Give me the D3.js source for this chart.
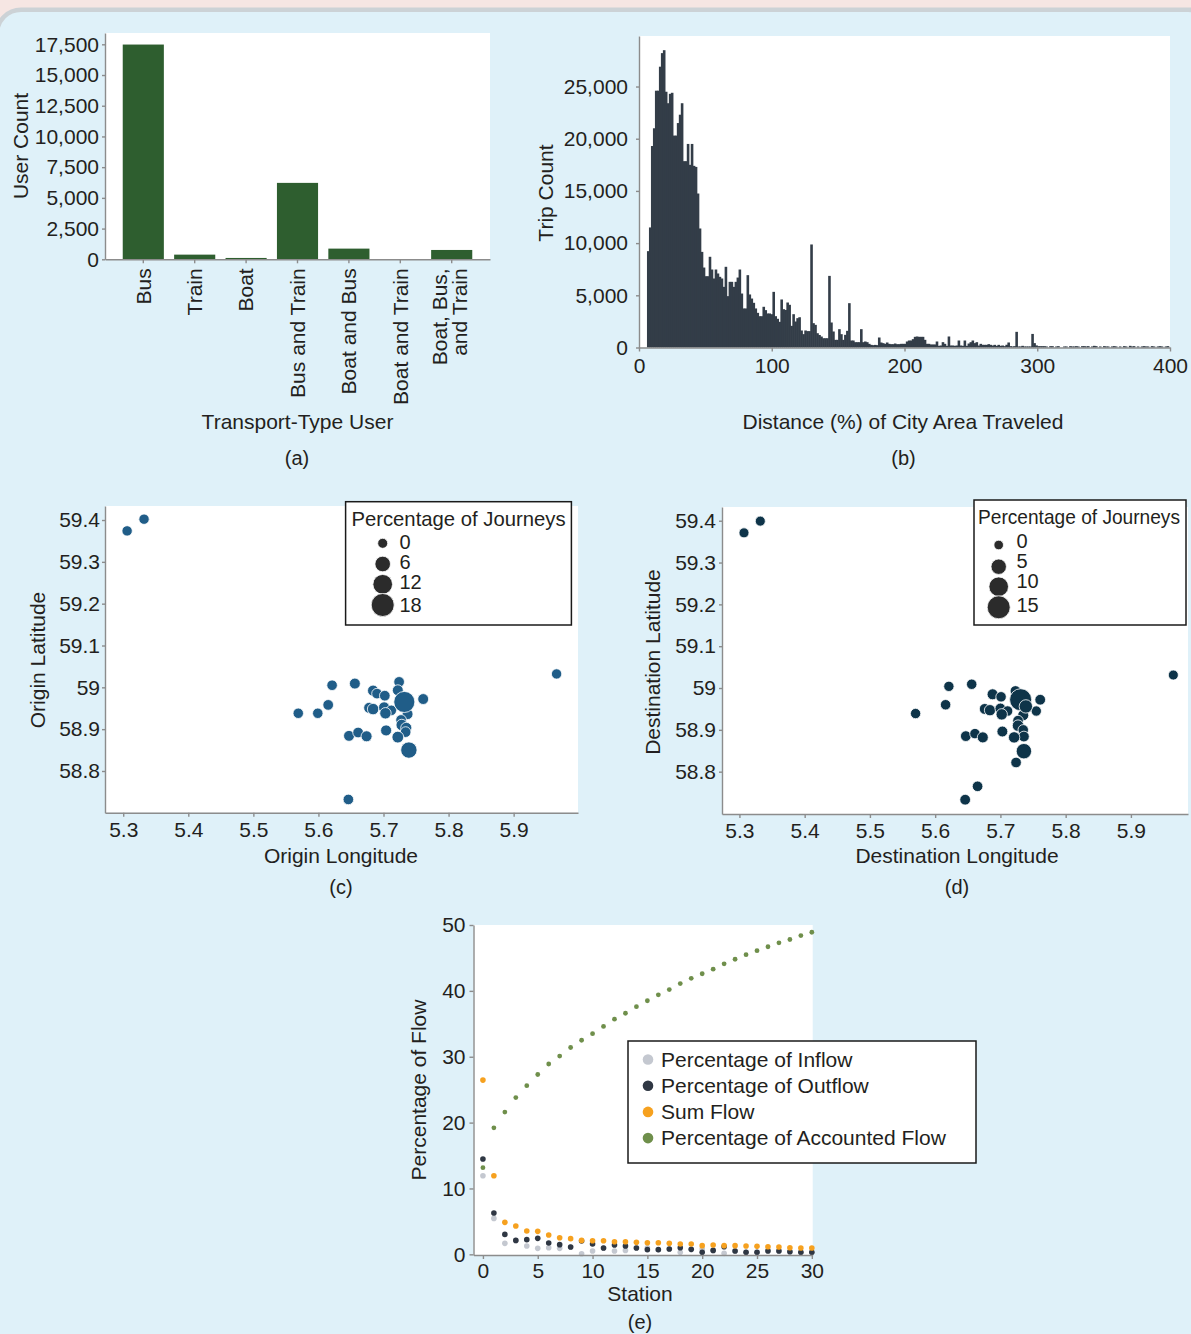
<!DOCTYPE html>
<html>
<head>
<meta charset="utf-8">
<script src="https://cdn.jsdelivr.net/npm/d3@7/dist/d3.min.js"></script>
<style>
  html, body { margin: 0; padding: 0; background: #f6e6e3; }
  svg { display: block; }
</style>
</head>
<body>
<svg id="fig" width="1191" height="1334"></svg>
<script>
// ---------- (a) users by transport type ----------
const transportTypes = ["Bus", "Train", "Boat", "Bus and Train", "Boat and Bus", "Boat and Train", "Boat, Bus, and Train"];
const transportTypeLabels = [["Bus"], ["Train"], ["Boat"], ["Bus and Train"], ["Boat and Bus"], ["Boat and Train"], ["Boat, Bus,", "and Train"]];
const userCounts = [17480, 380, 110, 6220, 870, 8, 760];
const userCountTicks = [0, 2500, 5000, 7500, 10000, 12500, 15000, 17500];

// ---------- (b) histogram of distance travelled ----------
const distanceBinStart = 6.0;
const distanceBinWidth = 1.5;
const tripCounts = [
  9230, 11500, 19300, 21000, 24600, 24600, 26900, 28200, 28480, 24500,
  23400, 24300, 24400, 20300, 20300, 21500, 22300, 23400, 17850, 17850,
  19500, 17500, 19500, 17400, 17300, 14750, 11400, 9160, 7660, 6830,
  6830, 8690, 7470, 6610, 7470, 7090, 6770, 6610, 5810, 7730,
  4920, 6290, 6290, 5810, 6290, 6700, 7470, 5170, 3740, 3740,
  6930, 5080, 4690, 4280, 3740, 3320, 3000, 3000, 3900, 3580,
  3260, 3260, 3190, 5330, 3000, 2750, 2460, 4600, 3670, 3600,
  4310, 4090, 2075, 3190, 2490, 2810, 2900, 1630, 1280, 1630,
  1570, 1570, 9870, 2330, 2170, 1370, 1200, 1050, 890, 890,
  890, 6860, 2395, 1533, 734, 734, 1756, 1277, 734, 1213,
  1597, 4247, 670, 670, 511, 511, 511, 1756, 511, 575,
  511, 351, 255, 224, 250, 224, 958, 479, 415, 351,
  479, 351, 320, 320, 380, 320, 320, 351, 351, 351,
  575, 670, 670, 800, 1022, 1054, 1022, 1022, 1022, 734,
  351, 351, 290, 290, 290, 575, 160, 191, 511, 351,
  160, 1054, 190, 190, 160, 190, 670, 190, 160, 670,
  160, 380, 510, 670, 420, 510, 190, 350, 255, 255,
  255, 320, 255, 190, 255, 160, 255, 160, 190, 130,
  260, 480, 130, 100, 130, 1500, 100, 100, 160, 100,
  100, 100, 100, 1300, 420, 200, 130, 130, 130, 130,
  100, 0, 130, 130, 0, 100, 130, 0, 0, 100,
  100, 0, 130, 100, 100, 130, 100, 0, 130, 130,
  100, 130, 0, 100, 160, 130, 0, 100, 0, 130,
  100, 100, 0, 100, 130, 100, 0, 100, 0, 130,
  100, 0, 160, 100, 130, 0, 100, 0, 100, 130,
  100, 100, 0, 130, 100, 0, 100, 130, 100, 0,
  100, 130
];
const distanceTicks = [0, 100, 200, 300, 400];
const tripCountTicks = [0, 5000, 10000, 15000, 20000, 25000];

// ---------- (c) origins ----------
const originLon = [5.306, 5.332, 5.966, 5.621, 5.656, 5.724, 5.684, 5.690, 5.702, 5.722, 5.761, 5.615, 5.569, 5.599, 5.678, 5.684,
                   5.701, 5.712, 5.703, 5.737, 5.727, 5.728, 5.735, 5.734, 5.704, 5.722, 5.647, 5.661, 5.674, 5.732, 5.739, 5.646];
const originLat = [59.374, 59.402, 59.032, 59.005, 59.009, 59.013, 58.992, 58.985, 58.980, 58.993, 58.972, 58.958, 58.938, 58.938, 58.951, 58.948,
                   58.952, 58.945, 58.938, 58.936, 58.922, 58.910, 58.903, 58.893, 58.897, 58.881, 58.884, 58.892, 58.883, 58.965, 58.850, 58.732];
const originPct = [0.3, 0.3, 0.3, 0.5, 0.8, 0.6, 1.0, 0.5, 0.6, 0.8, 0.8, 0.6, 0.4, 0.4, 0.9, 1.3,
                   1.0, 0.5, 1.3, 0.8, 0.6, 1.3, 1.0, 0.6, 0.9, 1.6, 0.8, 0.6, 0.9, 14.5, 7.0, 0.5];
const originLegendValues = [0, 6, 12, 18];

// ---------- (d) destinations ----------
const destLon = [5.307, 5.332, 5.965, 5.621, 5.656, 5.688, 5.701, 5.723, 5.761, 5.755, 5.616, 5.570, 5.676, 5.684, 5.700, 5.711, 5.702,
                 5.735, 5.727, 5.727, 5.735, 5.736, 5.721, 5.703, 5.647, 5.661, 5.673, 5.724, 5.665, 5.646, 5.731, 5.739, 5.736];
const destLat = [59.371, 59.399, 59.031, 59.004, 59.009, 58.985, 58.979, 58.993, 58.972, 58.945, 58.960, 58.939, 58.950, 58.947, 58.951, 58.945, 58.937,
                 58.935, 58.922, 58.910, 58.900, 58.884, 58.882, 58.896, 58.885, 58.891, 58.882, 58.822, 58.765, 58.733, 58.972, 58.956, 58.849];
const destPct = [0.3, 0.3, 0.3, 0.5, 0.6, 1.0, 0.6, 0.7, 0.8, 0.5, 0.6, 0.5, 0.9, 1.2, 0.9, 0.6, 1.3,
                 1.0, 0.7, 1.4, 0.6, 0.8, 1.3, 0.9, 0.8, 0.6, 1.0, 0.7, 0.7, 0.8, 13.5, 3.0, 5.0];
const destLegendValues = [0, 5, 10, 15];

const lonTicks = [5.3, 5.4, 5.5, 5.6, 5.7, 5.8, 5.9];
const latTicks = [58.8, 58.9, 59.0, 59.1, 59.2, 59.3, 59.4];

// ---------- (e) flow per station ----------
const stations = [0, 1, 2, 3, 4, 5, 6, 7, 8, 9, 10, 11, 12, 13, 14, 15, 16, 17, 18, 19, 20, 21, 22, 23, 24, 25, 26, 27, 28, 29, 30];
const inflowPct = [11.94, 5.46, 1.67, 2.10, 1.26, 0.91, 1.01, 0.91, 1.10, 0.10, 0.50, 0.95, 0.50, 0.60, 1.00, 1.00,
                   0.70, 0.80, 0.30, 0.75, 0.81, 0.60, 0.15, 0.50, 0.30, 0.30, 0.60, 0.50, 0.40, 0.30, 0.30];
const outflowPct = [14.47, 6.27, 3.03, 2.12, 2.23, 2.43, 1.72, 1.47, 1.11, 2.02, 1.57, 0.96, 1.42, 1.26, 0.96, 0.71,
                    0.71, 0.81, 1.01, 0.76, 0.30, 0.60, 1.16, 0.50, 0.30, 0.30, 0.50, 0.50, 0.40, 0.30, 0.30];
const sumFlowPct = [26.45, 11.94, 4.86, 4.30, 3.54, 3.49, 2.93, 2.53, 2.38, 2.12, 2.07, 2.07, 1.92, 1.92, 1.82, 1.77,
                    1.77, 1.67, 1.57, 1.57, 1.32, 1.42, 1.32, 1.32, 1.26, 1.21, 1.16, 1.11, 1.01, 0.96, 0.96];
const accountedFlowPct = [13.15, 19.2, 21.6, 23.8, 25.6, 27.3, 28.9, 30.1, 31.4, 32.5, 33.5, 34.6, 35.7, 36.6, 37.6, 38.5,
                          39.4, 40.2, 41.1, 41.9, 42.6, 43.3, 44.1, 44.8, 45.5, 46.1, 46.7, 47.3, 47.8, 48.4, 48.9];
const flowSeriesNames = ["Percentage of Inflow", "Percentage of Outflow", "Sum Flow", "Percentage of Accounted Flow"];
const stationTicks = [0, 5, 10, 15, 20, 25, 30];
const flowTicks = [0, 10, 20, 30, 40, 50];

// ---------- styling ----------
const FONT = '"Liberation Sans", Arial, Helvetica, sans-serif';
const INK = "#231f20";
const AXIS_GRAY = "#8c8c8c";
const BAR_GREEN = "#2e5e2f";
const HIST_SLATE = "#333d48";
const ORIGIN_BLUE = "#205d88";
const DEST_NAVY = "#0e3449";
const LEGEND_DOT = "#2b2b2b";
const FLOW_COLORS = ["#c4c8d0", "#2f3743", "#f6a11f", "#6f8f4b"];

const svg = d3.select("#fig");

// page background with the rounded light-blue panel
svg.append("rect").attr("width", 1191).attr("height", 1334).attr("fill", "#f6e6e3");
svg.append("rect")
  .attr("x", -3).attr("y", 9.7).attr("width", 1215).attr("height", 1360).attr("rx", 24)
  .attr("fill", "#dff1f9").attr("stroke", "#ccd2d6").attr("stroke-width", 4.5);

function text(x, y, str, opt = {}) {
  const t = svg.append("text")
    .attr("x", x).attr("y", y)
    .attr("font-family", FONT)
    .attr("font-size", opt.size || 21)
    .attr("text-anchor", opt.anchor || "middle")
    .attr("fill", INK)
    .text(str);
  if (opt.rotate) t.attr("transform", `rotate(-90,${x},${y})`);
  if (opt.length) t.attr("textLength", opt.length).attr("lengthAdjust", "spacingAndGlyphs");
  return t;
}

function styleAxis(g) {
  g.attr("font-family", FONT).attr("font-size", 21);
  g.select(".domain").attr("stroke", AXIS_GRAY).attr("stroke-width", 1.4);
  g.selectAll(".tick line").attr("stroke", AXIS_GRAY).attr("stroke-width", 1.4);
  g.selectAll(".tick text").attr("fill", INK);
  return g;
}

function plotArea(box) {
  svg.append("rect")
    .attr("x", box.l).attr("y", box.t)
    .attr("width", box.r - box.l).attr("height", box.b - box.t)
    .attr("fill", "#ffffff");
}

const fmt1 = d => String(+d.toFixed(1));

// =================== (a) ===================
const A = { l: 105, t: 33, r: 490, b: 259.3 };
plotArea(A);
const xA = d3.scaleBand().domain(transportTypes).range([A.l, A.r]).paddingInner(0.2).paddingOuter(0.345);
const yA = d3.scaleLinear().domain([0, 18420]).range([A.b, A.t]);

svg.append("g").selectAll("rect")
  .data(transportTypes)
  .join("rect")
  .attr("x", d => xA(d))
  .attr("width", xA.bandwidth())
  .attr("y", (d, i) => yA(userCounts[i]))
  .attr("height", (d, i) => yA(0) - yA(userCounts[i]))
  .attr("fill", BAR_GREEN);

styleAxis(svg.append("g").attr("transform", `translate(${A.l},0)`)
  .call(d3.axisLeft(yA).tickValues(userCountTicks).tickFormat(d3.format(",")).tickSize(3).tickPadding(3).tickSizeOuter(0)));

const gxA = styleAxis(svg.append("g").attr("transform", `translate(0,${A.b})`)
  .call(d3.axisBottom(xA).tickSize(4).tickSizeOuter(0)));
gxA.selectAll(".tick text").each(function (d) {
  const lines = transportTypeLabels[transportTypes.indexOf(d)];
  const t = d3.select(this)
    .attr("transform", "rotate(-90)")
    .attr("x", -9).attr("y", 0).attr("dy", null)
    .attr("text-anchor", "end")
    .text(null);
  if (lines.length === 1) {
    t.append("tspan").attr("x", -9).attr("dy", "0.35em").text(lines[0]);
  } else {
    t.append("tspan").attr("x", -9).attr("dy", -4.5).text(lines[0]);
    t.append("tspan").attr("x", -9).attr("dy", 20).text(lines[1]);
  }
});

text(27.5, 146, "User Count", { rotate: true });
text(297.5, 428.5, "Transport-Type User");
text(297, 464.5, "(a)", { size: 20 });

// =================== (b) ===================
const B = { l: 639, t: 36, r: 1170, b: 347.5 };
plotArea(B);
const xB = d3.scaleLinear().domain([0, 400]).range([B.l, B.r]);
const yB = d3.scaleLinear().domain([0, 29840]).range([B.b, B.t]);
const binPx = xB(distanceBinWidth) - xB(0);

// one rect per bin; empty bins draw nothing
svg.append("g").selectAll("rect")
  .data(tripCounts.map((c, i) => ({ c, x0: distanceBinStart + i * distanceBinWidth })).filter(d => d.c > 0))
  .join("rect")
  .attr("x", d => xB(d.x0))
  .attr("width", binPx + 0.6)
  .attr("y", d => yB(d.c))
  .attr("height", d => yB(0) - yB(d.c))
  .attr("fill", HIST_SLATE);

styleAxis(svg.append("g").attr("transform", `translate(${B.l},0)`)
  .call(d3.axisLeft(yB).tickValues(tripCountTicks).tickFormat(d3.format(",")).tickSize(3).tickPadding(8).tickSizeOuter(0)));
styleAxis(svg.append("g").attr("transform", `translate(0,${B.b})`)
  .call(d3.axisBottom(xB).tickValues(distanceTicks).tickSize(4).tickPadding(7).tickSizeOuter(0)));

text(553, 193, "Trip Count", { rotate: true });
text(903, 428.5, "Distance (%) of City Area Traveled");
text(903.5, 464.5, "(b)", { size: 20 });

// =================== (c) and (d) ===================
function bubblePanel(P, lonDomain, latDomain, lon, lat, pct, color, areaScale, yPad, legend) {
  plotArea(P);
  const x = d3.scaleLinear().domain(lonDomain).range([P.l, P.r]);
  const y = d3.scaleLinear().domain(latDomain).range([P.b, P.t]);
  const r = v => Math.sqrt(areaScale(v));

  svg.append("g").selectAll("circle")
    .data(d3.range(lon.length))
    .join("circle")
    .attr("cx", i => x(lon[i]))
    .attr("cy", i => y(lat[i]))
    .attr("r", i => r(pct[i]))
    .attr("fill", color)
    .attr("stroke", "#ffffff")
    .attr("stroke-width", 0.8);

  styleAxis(svg.append("g").attr("transform", `translate(${P.l},0)`)
    .call(d3.axisLeft(y).tickValues(latTicks).tickFormat(fmt1).tickSize(3).tickPadding(yPad).tickSizeOuter(0)));
  styleAxis(svg.append("g").attr("transform", `translate(0,${P.b})`)
    .call(d3.axisBottom(x).tickValues(lonTicks).tickFormat(fmt1).tickSize(4).tickPadding(5).tickSizeOuter(0)));

  // size legend
  const L = legend;
  svg.append("rect")
    .attr("x", L.x).attr("y", L.y).attr("width", L.w).attr("height", L.h)
    .attr("fill", "#ffffff").attr("stroke", "#1a1a1a").attr("stroke-width", 1.5);
  text(L.titleX, L.titleY, "Percentage of Journeys", { size: 20.3, length: L.titleLen });
  L.values.forEach((v, k) => {
    svg.append("circle")
      .attr("cx", L.dotX).attr("cy", L.dotY[k]).attr("r", r(v))
      .attr("fill", LEGEND_DOT).attr("stroke", "#ffffff").attr("stroke-width", 0.8);
    text(L.labelX, L.labelY[k], String(v), { anchor: "start", size: 20 });
  });
}

const C = { l: 105, t: 506, r: 578, b: 812.7 };
bubblePanel(C, [5.2720, 5.9989], [58.7003, 59.4335], originLon, originLat, originPct, ORIGIN_BLUE,
  d3.scaleLinear().domain([0, 18]).range([25, 132.25]), 2,
  { x: 345.6, y: 501.7, w: 225.8, h: 123.3, titleX: 458.5, titleY: 526, titleLen: null,
    values: originLegendValues, dotX: 382.7, dotY: [543.3, 564, 584.3, 605],
    labelX: 399.5, labelY: [549, 568.8, 588.5, 611.5] });
text(45, 660, "Origin Latitude", { rotate: true });
text(341, 862.5, "Origin Longitude");
text(341, 893.5, "(c)", { size: 20 });

const D = { l: 722, t: 507, r: 1188, b: 814 };
bubblePanel(D, [5.2733, 5.9875], [58.6988, 59.4328], destLon, destLat, destPct, DEST_NAVY,
  d3.scaleLinear().domain([0, 15]).range([23, 132.25]), 3,
  { x: 974, y: 500, w: 212, h: 125, titleX: 1079, titleY: 524, titleLen: 202,
    values: destLegendValues, dotX: 998.7, dotY: [545, 566.7, 586.7, 607.3],
    labelX: 1016.5, labelY: [548, 567.5, 588, 611.5] });
text(660, 662, "Destination Latitude", { rotate: true });
text(957, 862.5, "Destination Longitude");
text(957, 893.5, "(d)", { size: 20 });

// =================== (e) ===================
const E = { l: 473.5, t: 925, r: 812.7, b: 1255 };
plotArea(E);
const xE = d3.scaleLinear().domain([-0.86, 30.08]).range([E.l, E.r]);
const yE = d3.scaleLinear().domain([-0.1, 50.0]).range([E.b, E.t]);
const flowSeries = [inflowPct, outflowPct, sumFlowPct, accountedFlowPct];
const flowRadius = [2.8, 2.8, 2.8, 2.4];

flowSeries.forEach((series, s) => {
  svg.append("g").selectAll("circle")
    .data(stations)
    .join("circle")
    .attr("cx", d => xE(d))
    .attr("cy", (d, i) => yE(series[i]))
    .attr("r", flowRadius[s])
    .attr("fill", FLOW_COLORS[s]);
});

styleAxis(svg.append("g").attr("transform", `translate(${E.l},0)`)
  .call(d3.axisLeft(yE).tickValues(flowTicks).tickSize(4).tickPadding(4).tickSizeOuter(0)));
styleAxis(svg.append("g").attr("transform", `translate(0,${E.b})`)
  .call(d3.axisBottom(xE).tickValues(stationTicks).tickSize(4).tickPadding(4).tickSizeOuter(0)));

// legend
svg.append("rect")
  .attr("x", 628).attr("y", 1041).attr("width", 348).attr("height", 122)
  .attr("fill", "#ffffff").attr("stroke", "#1a1a1a").attr("stroke-width", 1.5);
flowSeriesNames.forEach((name, k) => {
  const cy = 1059.5 + k * 26.2;
  svg.append("circle").attr("cx", 648).attr("cy", cy).attr("r", 5.3).attr("fill", FLOW_COLORS[k]);
  text(661, cy + 7.3, name, { anchor: "start" });
});

text(426, 1090, "Percentage of Flow", { rotate: true });
text(640, 1300.5, "Station");
text(640, 1328.5, "(e)", { size: 20 });
</script>
</body>
</html>
